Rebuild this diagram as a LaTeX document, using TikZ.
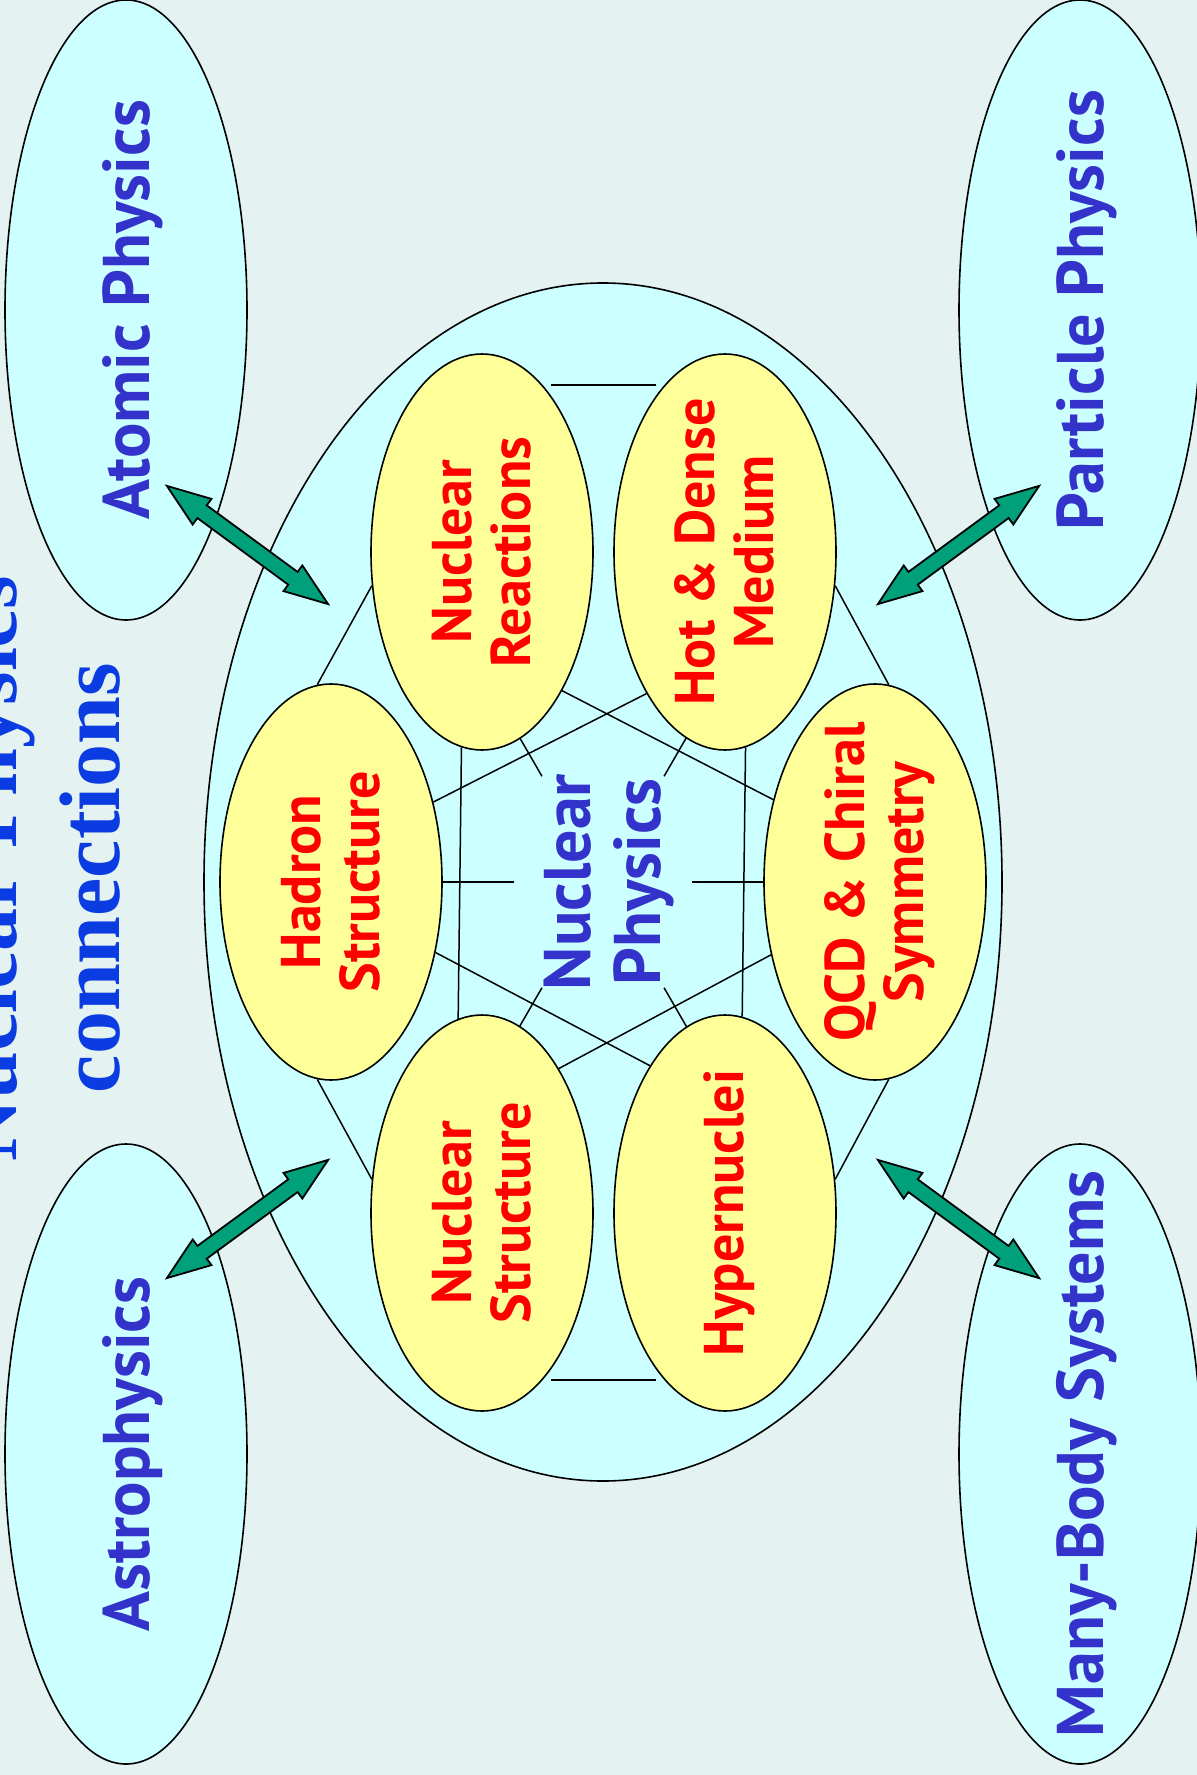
\documentclass[tikz,border=0pt]{standalone}
\usepackage{fontspec}
\usepackage{graphicx}
\usepackage{tikz}
\usetikzlibrary{shapes.geometric,shapes.arrows,calc}
\newfontfamily\labelfont{PT Sans}
\newfontfamily\titlefont{Liberation Serif}
\definecolor{mybg}{RGB}{228,242,242}
\definecolor{mycyan}{RGB}{204,255,255}
\definecolor{myyellow}{RGB}{255,255,153}
\definecolor{myred}{RGB}{255,0,0}
\definecolor{myblue}{RGB}{51,51,204}
\definecolor{mytitleblue}{RGB}{10,60,225}
\definecolor{myteal}{RGB}{0,160,122}
\tikzset{every picture/.style={line width=0.75pt}}
\newcommand{\uplabel}[1]{\makebox[0pt]{\hspace*{0.25em}\raisebox{-0.5\height}[0pt][0pt]{\rotatebox{90}{\begin{tabular}{@{}c@{}}#1\end{tabular}}}}}

\begin{document}
\begin{tikzpicture}[x=0.5pt,y=0.5pt,yscale=-1,xscale=1,
  fieldnode/.style={ellipse, draw, line width=0.8pt, fill=mycyan, inner sep=0pt, minimum width=121pt, minimum height=310pt, text=myblue, font=\labelfont\bfseries\fontsize{33}{38}\selectfont},
  topicnode/.style={ellipse, draw, line width=0.8pt, fill=myyellow, inner sep=0pt, minimum width=111pt, minimum height=198pt, text=myred, font=\labelfont\bfseries\fontsize{28}{29.5}\selectfont},
  centrenode/.style={ellipse, inner sep=0pt, minimum width=88pt, minimum height=145pt, text=myblue, font=\labelfont\bfseries\fontsize{33}{35}\selectfont},
  link/.style={line width=0.75pt},
  bigarrow/.style={double arrow, draw, line width=0.9pt, fill=myteal, inner xsep=0pt, inner ysep=3.5pt, minimum height=100pt, double arrow head extend=4pt, double arrow tip angle=40},
  titletext/.style={rotate=90, anchor=base, text=mytitleblue, font=\titlefont\bfseries\fontsize{43}{52}\selectfont}]
%uncomment if require: \path (0,1775); %set diagram left start at 0, and has height of 1775
\fill[mybg] (0,0) rectangle (1197,1775);
\useasboundingbox (0,0) rectangle (1197,1775);

%Shape: Ellipse [big field]
\draw[fill=mycyan, line width=0.8pt] (603,882) ellipse [x radius=399, y radius=599];

%Shape: Ellipse [outer fields]
\node[fieldnode] (atomic) at (126,310) {\uplabel{Atomic Physics}};
\node[fieldnode] (particle) at (1080,310) {\uplabel{Particle Physics}};
\node[fieldnode] (astro) at (126,1454) {\uplabel{Astrophysics}};
\node[fieldnode] (manybody) at (1080,1454) {\uplabel{Many-Body Systems}};

%Text Node [centre]
\node[centrenode] (np) at (603,882) {\uplabel{Nuclear\\Physics}};

%Straight Lines [spokes]
\draw[link] (np.0) -- ($(np.center)!2!(np.0)$);
\draw[link] (np.60) -- ($(np.center)!2!(np.60)$);
\draw[link] (np.120) -- ($(np.center)!2!(np.120)$);
\draw[link] (np.180) -- ($(np.center)!2!(np.180)$);
\draw[link] (np.240) -- ($(np.center)!2!(np.240)$);
\draw[link] (np.300) -- ($(np.center)!2!(np.300)$);

%Shape: Ellipse [topics]
\node[topicnode] (nr) at (482,552) {\uplabel{Nuclear\\Reactions}};
\node[topicnode] (hd) at (725,552) {\uplabel{Hot \& Dense\\Medium}};
\node[topicnode] (had) at (331,882) {\uplabel{Hadron\\Structure}};
\node[topicnode] (qcd) at (875,882) {\uplabel{QCD \& Chiral\\Symmetry}};
\node[topicnode] (ns) at (482,1213) {\uplabel{Nuclear\\Structure}};
\node[topicnode] (hyp) at (725,1213) {\uplabel{Hypernuclei}};

%Straight Lines [hexagon]
\draw[link, shorten <=4pt, shorten >=4pt] (nr.70) -- (hd.110);
\draw[link, shorten <=4pt, shorten >=4pt] (ns.290) -- (hyp.250);
\draw[link] (had.94) -- (nr.197);
\draw[link] (hd.343) -- (qcd.86);
\draw[link] (had.266) -- (ns.163);
\draw[link] (qcd.274) -- (hyp.17);
%Straight Lines [star]
\draw[link] (nr.264) -- (ns.97);
\draw[link] (hd.276) -- (hyp.85);
\draw[link] (had.38) -- (hd.241);
\draw[link] (nr.300) -- (qcd.141);
\draw[link] (had.326) -- (hyp.117);
\draw[link] (ns.62) -- (qcd.215);

%Shape: Double Arrow (angle sign flipped, the picture has yscale=-1)
\coordinate (atomtip) at (167,486);
\coordinate (atomend) at (328,604);
\path let \p1=($(atomend)-(atomtip)$) in (atomtip) -- (atomend) node[bigarrow, midway, rotate={-atan2(\y1,\x1)}] (atomarrow) {};
\coordinate (parttip) at (1039,486);
\coordinate (partend) at (878,604);
\path let \p1=($(partend)-(parttip)$) in (parttip) -- (partend) node[bigarrow, midway, rotate={-atan2(\y1,\x1)}] (partarrow) {};
\coordinate (astrotip) at (167,1278);
\coordinate (astroend) at (328,1160);
\path let \p1=($(astroend)-(astrotip)$) in (astrotip) -- (astroend) node[bigarrow, midway, rotate={-atan2(\y1,\x1)}] (astroarrow) {};
\coordinate (manytip) at (1039,1278);
\coordinate (manyend) at (878,1160);
\path let \p1=($(manyend)-(manytip)$) in (manytip) -- (manyend) node[bigarrow, midway, rotate={-atan2(\y1,\x1)}] (manyarrow) {};

%Text Node [title]
\node[titletext] (ttlone) at (17,869) {Nuclear Physics};
\node[titletext] (ttltwo) at (119,878) {connections};

\end{tikzpicture}
\end{document}
